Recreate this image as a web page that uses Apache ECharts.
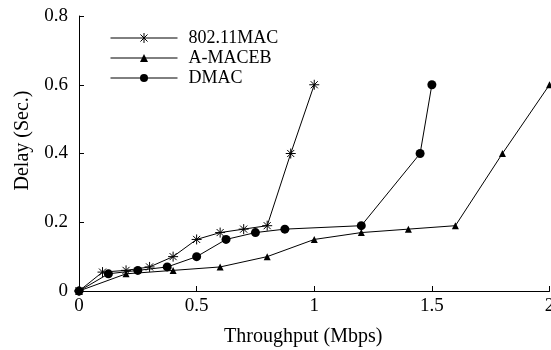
<!DOCTYPE html>
<html>
<head>
<meta charset="utf-8">
<script src="https://cdn.jsdelivr.net/npm/echarts@6/dist/echarts.min.js"></script>
<style>
html,body{margin:0;padding:0;background:#fff;}
#c{width:551px;height:350px;}
</style>
</head>
<body>
<div id="c"></div>
<script>
var seriesNames = ['802.11MAC', 'A-MACEB', 'DMAC'];
var mac80211X = [0, 0.1, 0.2, 0.3, 0.4, 0.5, 0.6, 0.7, 0.8, 0.9, 1.0];
var mac80211Y = [0, 0.055, 0.06, 0.07, 0.1, 0.15, 0.17, 0.18, 0.19, 0.4, 0.6];
var amacebX = [0, 0.2, 0.4, 0.6, 0.8, 1.0, 1.2, 1.4, 1.6, 1.8, 2.0];
var amacebY = [0, 0.05, 0.06, 0.07, 0.1, 0.15, 0.17, 0.18, 0.19, 0.4, 0.6];
var dmacX = [0, 0.125, 0.25, 0.375, 0.5, 0.625, 0.75, 0.875, 1.2, 1.45, 1.5];
var dmacY = [0, 0.05, 0.06, 0.07, 0.1, 0.15, 0.17, 0.18, 0.19, 0.4, 0.6];
var xTicks = [0, 0.5, 1, 1.5, 2];
var yTicks = [0, 0.2, 0.4, 0.6, 0.8];

function pairs(xs, ys) { return xs.map(function (x, i) { return [x, ys[i]]; }); }

var FONT = '"Liberation Serif", "DejaVu Serif", serif';
var asterisk = 'path://M0,-1L0,1M-1,0L1,0M-0.707,-0.707L0.707,0.707M-0.707,0.707L0.707,-0.707';
var asteriskLegend = 'path://M-6.7,0L6.7,0M0,-1L0,1M-0.707,-0.707L0.707,0.707M-0.707,0.707L0.707,-0.707';
var starStyle = {color: 'rgba(0,0,0,0)', borderColor: '#000', borderWidth: 1};

var chart = echarts.init(document.getElementById('c'), null, {renderer: 'canvas'});
chart.setOption({
  animation: false,
  backgroundColor: '#fff',
  grid: {left: 79, right: 1.5, top: 16, bottom: 59, containLabel: false, outerBoundsMode: 'none'},
  legend: {
    orient: 'vertical',
    left: 105,
    top: 24,
    itemWidth: 67,
    itemHeight: 10,
    itemGap: 2,
    lineStyle: {width: 1, color: '#000'},
    data: [
      {name: seriesNames[0], icon: asteriskLegend, itemStyle: starStyle},
      {name: seriesNames[1]},
      {name: seriesNames[2]}
    ],
    textStyle: {fontFamily: FONT, fontSize: 18, color: '#000', padding: [0, 0, 0, 6]}
  },
  xAxis: {
    type: 'value', min: 0, max: 2, interval: 0.5,
    name: 'Throughput (Mbps)', nameLocation: 'middle', nameGap: 36,
    nameTextStyle: {fontFamily: FONT, fontSize: 20, color: '#000', padding: [0, 22, 0, 0]},
    axisLine: {show: true, lineStyle: {color: '#000', width: 1}},
    axisTick: {show: true, inside: true, length: 5, lineStyle: {color: '#000'}},
    axisLabel: {fontFamily: FONT, fontSize: 19, color: '#000', margin: 6, hideOverlap: false,
      formatter: function (v) { return xTicks.indexOf(v) >= 0 ? String(v) : ''; }},
    splitLine: {show: false}
  },
  yAxis: {
    type: 'value', min: 0, max: 0.8, interval: 0.2,
    name: 'Delay (Sec.)', nameLocation: 'middle', nameGap: 46,
    nameTextStyle: {fontFamily: FONT, fontSize: 20, color: '#000', padding: [0, 0, 0, 26]},
    axisLine: {show: true, lineStyle: {color: '#000', width: 1}},
    axisTick: {show: true, inside: true, length: 5, lineStyle: {color: '#000'}},
    axisLabel: {fontFamily: FONT, fontSize: 19, color: '#000', margin: 11,
      formatter: function (v) { var r = Math.round(v * 10) / 10; return yTicks.indexOf(r) >= 0 ? String(r) : ''; }},
    splitLine: {show: false}
  },
  series: [
    {
      name: seriesNames[0], type: 'line', data: pairs(mac80211X, mac80211Y),
      symbol: asterisk, symbolSize: 10, clip: false,
      lineStyle: {color: '#000', width: 1},
      itemStyle: starStyle
    },
    {
      name: seriesNames[1], type: 'line', data: pairs(amacebX, amacebY),
      symbol: 'triangle', symbolSize: 7, clip: false,
      lineStyle: {color: '#000', width: 1},
      itemStyle: {color: '#000'}
    },
    {
      name: seriesNames[2], type: 'line', data: pairs(dmacX, dmacY),
      symbol: 'circle', symbolSize: 9, clip: false,
      lineStyle: {color: '#000', width: 1},
      itemStyle: {color: '#000'}
    }
  ]
});
</script>
</body>
</html>
